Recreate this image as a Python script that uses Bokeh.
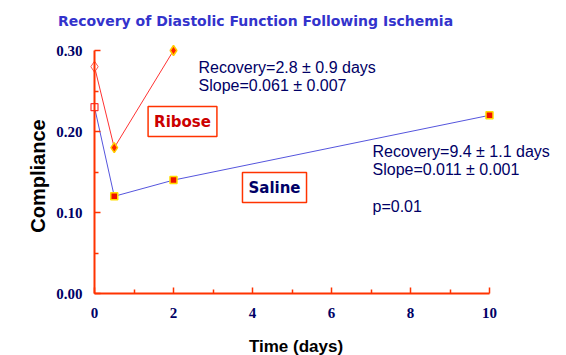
import math
from bokeh.plotting import figure
from bokeh.models import Range1d, LinearAxis, FixedTicker, Label
from bokeh.core.properties import value
from bokeh.embed import file_html
from bokeh.resources import INLINE

# ---- data ----
ribose_days = [0, 0.5, 2]
ribose_compliance = [0.28, 0.18, 0.30]
saline_days = [0, 0.5, 2, 10]
saline_compliance = [0.23, 0.12, 0.14, 0.22]
x_ticks = [0, 2, 4, 6, 8, 10]
x_tick_labels = ["0", "2", "4", "6", "8", "10"]
x_minor = [1, 3, 5, 7, 9]
y_ticks = [0.0, 0.1, 0.2, 0.3]
y_tick_labels = ["0.00", "0.10", "0.20", "0.30"]
y_minor = [0.05, 0.15, 0.25]
title_text = "Recovery of Diastolic Function Following Ischemia"
ribose_stats = ["Recovery=2.8 \u00b1 0.9 days", "Slope=0.061 \u00b1 0.007"]
saline_stats = ["Recovery=9.4 \u00b1 1.1 days", "Slope=0.011 \u00b1 0.001", "p=0.01"]

AXIS_RED = "#ff3300"
NAVY = "#000066"

W, H = 566, 355
OX, OY = 94, 293      # canvas pixel of the data origin
XS = 39.5             # px per day
YS = 810.0            # px per compliance unit

def dx(px):  # canvas x pixel -> data x
    return (px - OX) / XS

def dy(py):  # canvas y pixel -> data y
    return (OY - py) / YS

p = figure(width=W, height=H, output_backend="svg", toolbar_location=None,
           x_range=Range1d(dx(0), dx(W)), y_range=Range1d(dy(H), dy(0)),
           x_axis_location=None, y_axis_location=None,
           min_border_left=0, min_border_right=0, min_border_top=0, min_border_bottom=0)
p.outline_line_color = None
p.grid.visible = False
p.background_fill_color = "white"
p.border_fill_color = "white"

def make_axis(ticks, bounds, tick_len, draw_line):
    # ticks are given as "minor" ticks so the axis renders no label texts
    ax = LinearAxis(ticker=FixedTicker(ticks=[], minor_ticks=ticks), bounds=bounds, fixed_location=0)
    ax.axis_line_color = AXIS_RED if draw_line else None
    ax.axis_line_width = 2
    ax.minor_tick_line_color = AXIS_RED
    ax.minor_tick_line_width = 1.5
    ax.minor_tick_in = tick_len
    ax.minor_tick_out = 0
    ax.major_tick_line_color = None
    ax.major_label_standoff = 0
    return ax

p.add_layout(make_axis(x_ticks, (0, 10), 6, True), "below")
p.add_layout(make_axis(x_minor, (0, 10), 4, False), "below")
p.add_layout(make_axis(y_ticks, (0, 0.3), 6, True), "left")
p.add_layout(make_axis(y_minor, (0, 0.3), 4, False), "left")

# tick labels (drawn from the tick arrays)
p.text(x=x_ticks, y=[0] * len(x_ticks), text=x_tick_labels, y_offset=14,
       text_align="center", text_baseline="top", text_font=value("Liberation Serif"),
       text_font_style="bold", text_font_size="15px", text_color=NAVY)
p.text(x=[0] * len(y_ticks), y=y_ticks, text=y_tick_labels, x_offset=-12,
       text_align="right", text_baseline="middle", text_font=value("Liberation Serif"),
       text_font_style="bold", text_font_size="15px", text_color=NAVY)

# axis titles
p.add_layout(Label(x=dx(295.5), y=dy(346), text="Time (days)", text_align="center",
                   text_baseline="alphabetic", text_font="Liberation Sans", text_font_style="bold",
                   text_font_size="17px", text_color="black"))
p.add_layout(Label(x=dx(37), y=dy(175.5), text="Compliance", angle=math.pi / 2,
                   text_align="center", text_baseline="alphabetic", text_font="Liberation Sans",
                   text_font_style="bold", text_font_size="20px", text_color="black"))

# lines
p.line(ribose_days, ribose_compliance, line_color="#ff3333", line_width=1)
p.line(saline_days, saline_compliance, line_color="#5555dd", line_width=1)

# hollow first points
p.scatter(ribose_days[:1], ribose_compliance[:1], marker="diamond", size=11,
          fill_color="white", line_color="#ff5555", line_width=1)
p.scatter(saline_days[:1], saline_compliance[:1], marker="square", size=7,
          fill_color="white", line_color="#ff3333", line_width=1.2)
# filled points
p.scatter(ribose_days[1:], ribose_compliance[1:], marker="diamond", size=10,
          fill_color="#ff2200", line_color="#ffcc00", line_width=1.5)
p.scatter(saline_days[1:], saline_compliance[1:], marker="square", size=7,
          fill_color="#ee1100", line_color="#ffdd00", line_width=1.5)

# title
p.add_layout(Label(x=dx(255), y=dy(20), text=title_text, text_align="center", text_baseline="middle",
                   text_font="DejaVu Sans", text_font_style="bold", text_font_size="14px",
                   text_color="#3333cc"))

# stats text
for i, t in enumerate(ribose_stats):
    p.add_layout(Label(x=dx(198), y=dy(67 + 18 * i), text=t, text_align="left", text_baseline="middle",
                       text_font="Liberation Sans", text_font_size="16px", text_color=NAVY))
for t, py in zip(saline_stats, [151, 169, 206]):
    p.add_layout(Label(x=dx(372), y=dy(py), text=t, text_align="left", text_baseline="middle",
                       text_font="Liberation Sans", text_font_size="16px", text_color=NAVY))

# boxed group labels
p.add_layout(Label(x=dx(182), y=dy(121), text="Ribose", text_align="center", text_baseline="middle",
                   text_font="DejaVu Sans", text_font_style="bold", text_font_size="15px",
                   text_color="#cc0000", background_fill_color="white",
                   border_line_color="#ff3300", border_line_width=1.5, padding=6))
p.add_layout(Label(x=dx(274), y=dy(187), text="Saline", text_align="center", text_baseline="middle",
                   text_font="DejaVu Sans", text_font_style="bold", text_font_size="15px",
                   text_color=NAVY, background_fill_color="white",
                   border_line_color="#ff3300", border_line_width=1.5, padding=6))

open("out.html", "w").write(file_html(p, INLINE))
